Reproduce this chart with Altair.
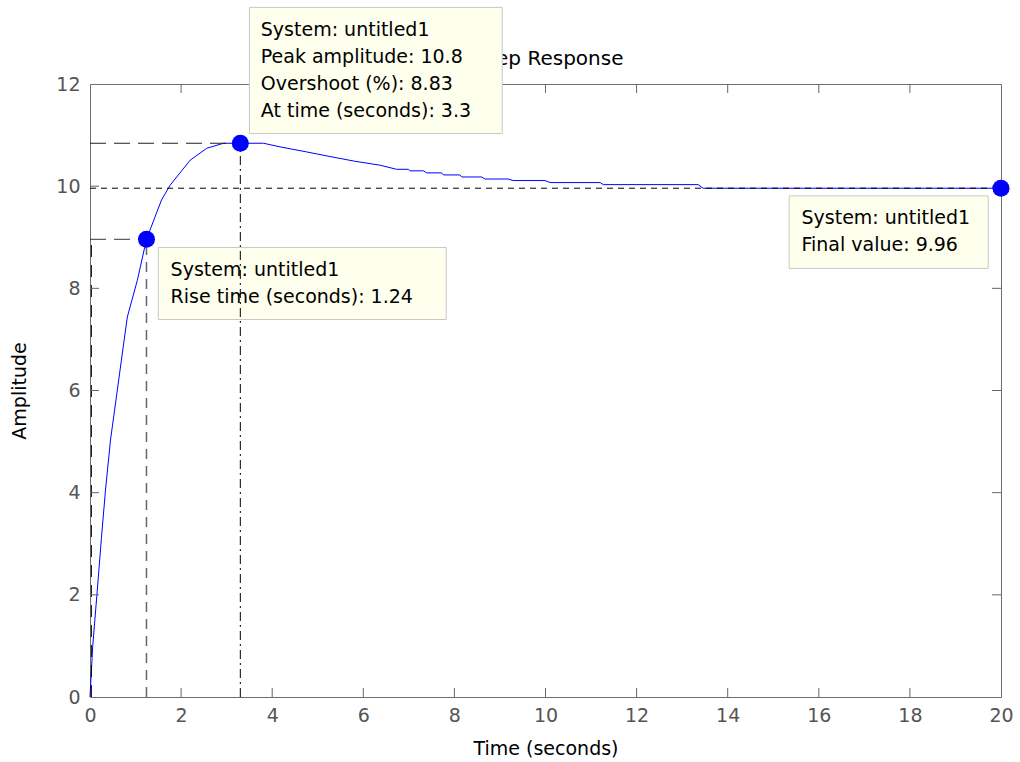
import altair as alt
import pandas as pd

# ---------------- data ----------------
time_s = [0, 0.06, 0.16, 0.25, 0.34, 0.45, 0.60, 0.75, 0.82, 1.04, 1.24, 1.57, 1.76,
          2.20, 2.56, 2.93, 3.30, 3.81, 4.17, 4.76, 5.27, 5.80, 6.37, 6.73, 6.99,
          7.03, 7.32, 7.39, 7.72, 7.76, 8.12, 8.16, 8.60, 8.67, 9.18, 9.29, 9.99,
          10.10, 11.20, 11.27, 13.35, 13.46, 20.0]
amplitude = [0, 1.00, 2.09, 3.10, 4.05, 5.03, 6.01, 6.99, 7.44, 8.16, 8.96, 9.73, 10.02,
             10.51, 10.74, 10.84, 10.84, 10.84, 10.77, 10.67, 10.58, 10.49, 10.41, 10.33, 10.33,
             10.30, 10.30, 10.26, 10.26, 10.22, 10.22, 10.18, 10.18, 10.14, 10.14, 10.11, 10.11,
             10.07, 10.07, 10.03, 10.03, 9.96, 9.96]

x_tick_values = [0, 2, 4, 6, 8, 10, 12, 14, 16, 18, 20]
y_tick_values = [0, 2, 4, 6, 8, 10, 12]
inner_x_ticks = [2, 4, 6, 8, 10, 12, 14, 16, 18]
inner_y_ticks = [2, 4, 6, 8, 10]

peak_time, peak_value = 3.3, 10.84
rise_t10, rise_t90, rise_value = 0.03, 1.24, 8.96
final_time, final_value = 20.0, 9.96

marker_t = [rise_t90, peak_time, final_time]
marker_y = [rise_value, peak_value, final_value]

# annotation boxes (data coordinates)
box_x1 = [3.50, 1.50, 15.35]
box_x2 = [9.05, 7.82, 19.72]
box_y1 = [13.50, 8.80, 9.81]
box_y2 = [11.03, 7.39, 8.39]

peak_lines = ["System: untitled1", "Peak amplitude: 10.8", "Overshoot (%): 8.83",
              "At time (seconds): 3.3"]
peak_line_y = [12.94, 12.41, 11.88, 11.36]
rise_lines = ["System: untitled1", "Rise time (seconds): 1.24"]
rise_line_y = [8.24, 7.72]
final_lines = ["System: untitled1", "Final value: 9.96"]
final_line_y = [9.25, 8.73]

W, H = 911, 613
FONT = "DejaVu Sans"
FS = 19

xs = alt.Scale(domain=[0, 20], nice=False, zero=False)
ys = alt.Scale(domain=[0, 12], nice=False, zero=False)

curve_df = pd.DataFrame({"t": time_s, "a": amplitude})

base_x = alt.X("t:Q", scale=xs,
               axis=alt.Axis(values=x_tick_values, title="Time (seconds)", format="d"))
base_y = alt.Y("a:Q", scale=ys,
               axis=alt.Axis(values=y_tick_values, title="Amplitude", format="d"))

curve = alt.Chart(curve_df).mark_line(color="#0000ff", strokeWidth=1).encode(x=base_x, y=base_y)


def seg(x1, x2, y1, y2, dash, color, width=1.0):
    df = pd.DataFrame({"t": [x1], "t2": [x2], "a": [y1], "a2": [y2]})
    return alt.Chart(df).mark_rule(strokeDash=dash, color=color, strokeWidth=width).encode(
        x=alt.X("t:Q", scale=xs), x2="t2:Q", y=alt.Y("a:Q", scale=ys), y2="a2:Q")


steady = seg(0, 20, final_value, final_value, [6, 5], "#000000")
peak_h = seg(0, peak_time, peak_value, peak_value, [16, 8], "#222222")
peak_v = seg(peak_time, peak_time, 0, peak_value, [9, 4, 2, 4], "#000000")
rise_h = seg(0, rise_t90, rise_value, rise_value, [16, 8], "#333333")
rise_v1 = seg(rise_t10, rise_t10, 0, rise_value, [12, 8], "#000000")
rise_v2 = seg(rise_t90, rise_t90, 0, rise_value, [10, 7], "#666666", 1.5)

# inward ticks on all four sides
xt = pd.DataFrame({"t": inner_x_ticks})
yt = pd.DataFrame({"a": inner_y_ticks})
tick_color = "#666666"
ticks_bottom = alt.Chart(xt).mark_rule(color=tick_color).encode(
    x=alt.X("t:Q", scale=xs), y=alt.value(H), y2=alt.value(H - 9))
ticks_top = alt.Chart(xt).mark_rule(color=tick_color).encode(
    x=alt.X("t:Q", scale=xs), y=alt.value(0), y2=alt.value(9))
ticks_left = alt.Chart(yt).mark_rule(color=tick_color).encode(
    y=alt.Y("a:Q", scale=ys), x=alt.value(0), x2=alt.value(9))
ticks_right = alt.Chart(yt).mark_rule(color=tick_color).encode(
    y=alt.Y("a:Q", scale=ys), x=alt.value(W), x2=alt.value(W - 9))

title_df = pd.DataFrame({"label": ["Step Response"]})
title = alt.Chart(title_df).mark_text(font=FONT, fontSize=20, color="#000000",
                                      align="center", baseline="alphabetic").encode(
    x=alt.value(W / 2 + 4), y=alt.value(-19), text="label:N")


def box(i):
    df = pd.DataFrame({"t": [box_x1[i]], "t2": [box_x2[i]], "a": [box_y1[i]], "a2": [box_y2[i]]})
    return alt.Chart(df).mark_rect(fill="#ffffee", stroke="#c8c8c8", strokeWidth=1).encode(
        x=alt.X("t:Q", scale=xs), x2="t2:Q", y=alt.Y("a:Q", scale=ys), y2="a2:Q")


def box_text(lines, ys_, x0):
    df = pd.DataFrame({"label": lines, "a": ys_, "t": [x0] * len(lines)})
    return alt.Chart(df).mark_text(font=FONT, fontSize=FS, color="#000000",
                                   align="left", baseline="alphabetic").encode(
        x=alt.X("t:Q", scale=xs), y=alt.Y("a:Q", scale=ys), text="label:N")


peak_box = box(0)
rise_box = box(1)
final_box = box(2)
peak_txt = box_text(peak_lines, peak_line_y, 3.75)
rise_txt = box_text(rise_lines, rise_line_y, 1.77)
final_txt = box_text(final_lines, final_line_y, 15.62)

markers = alt.Chart(pd.DataFrame({"t": marker_t, "a": marker_y})).mark_circle(
    size=290, color="#0000ff", opacity=1).encode(
    x=alt.X("t:Q", scale=xs), y=alt.Y("a:Q", scale=ys))

chart = alt.layer(
    curve, steady, peak_h, rise_h, rise_v1, rise_v2,
    ticks_bottom, ticks_top, ticks_left, ticks_right,
    rise_box, rise_txt, peak_v, title, peak_box, peak_txt, final_box, final_txt,
    markers,
).properties(
    width=W, height=H,
    background="white",
    autosize=alt.AutoSizeParams(type="none"),
    padding={"left": 90, "top": 84, "right": 19, "bottom": 65},
).configure_view(
    stroke="#6e6e6e", strokeWidth=1
).configure_axis(
    domain=False, ticks=False, grid=False,
    labelFont=FONT, labelFontSize=FS, labelColor="#555555",
    titleFont=FONT, titleFontSize=FS, titleColor="#000000", titleFontWeight="normal",
    labelOverlap=False, labelFlush=False,
).configure_axisX(
    labelPadding=9, titlePadding=14
).configure_axisY(
    labelPadding=10, titlePadding=26
)

chart.save("out.html", embed_options={"renderer": "svg", "actions": False})
